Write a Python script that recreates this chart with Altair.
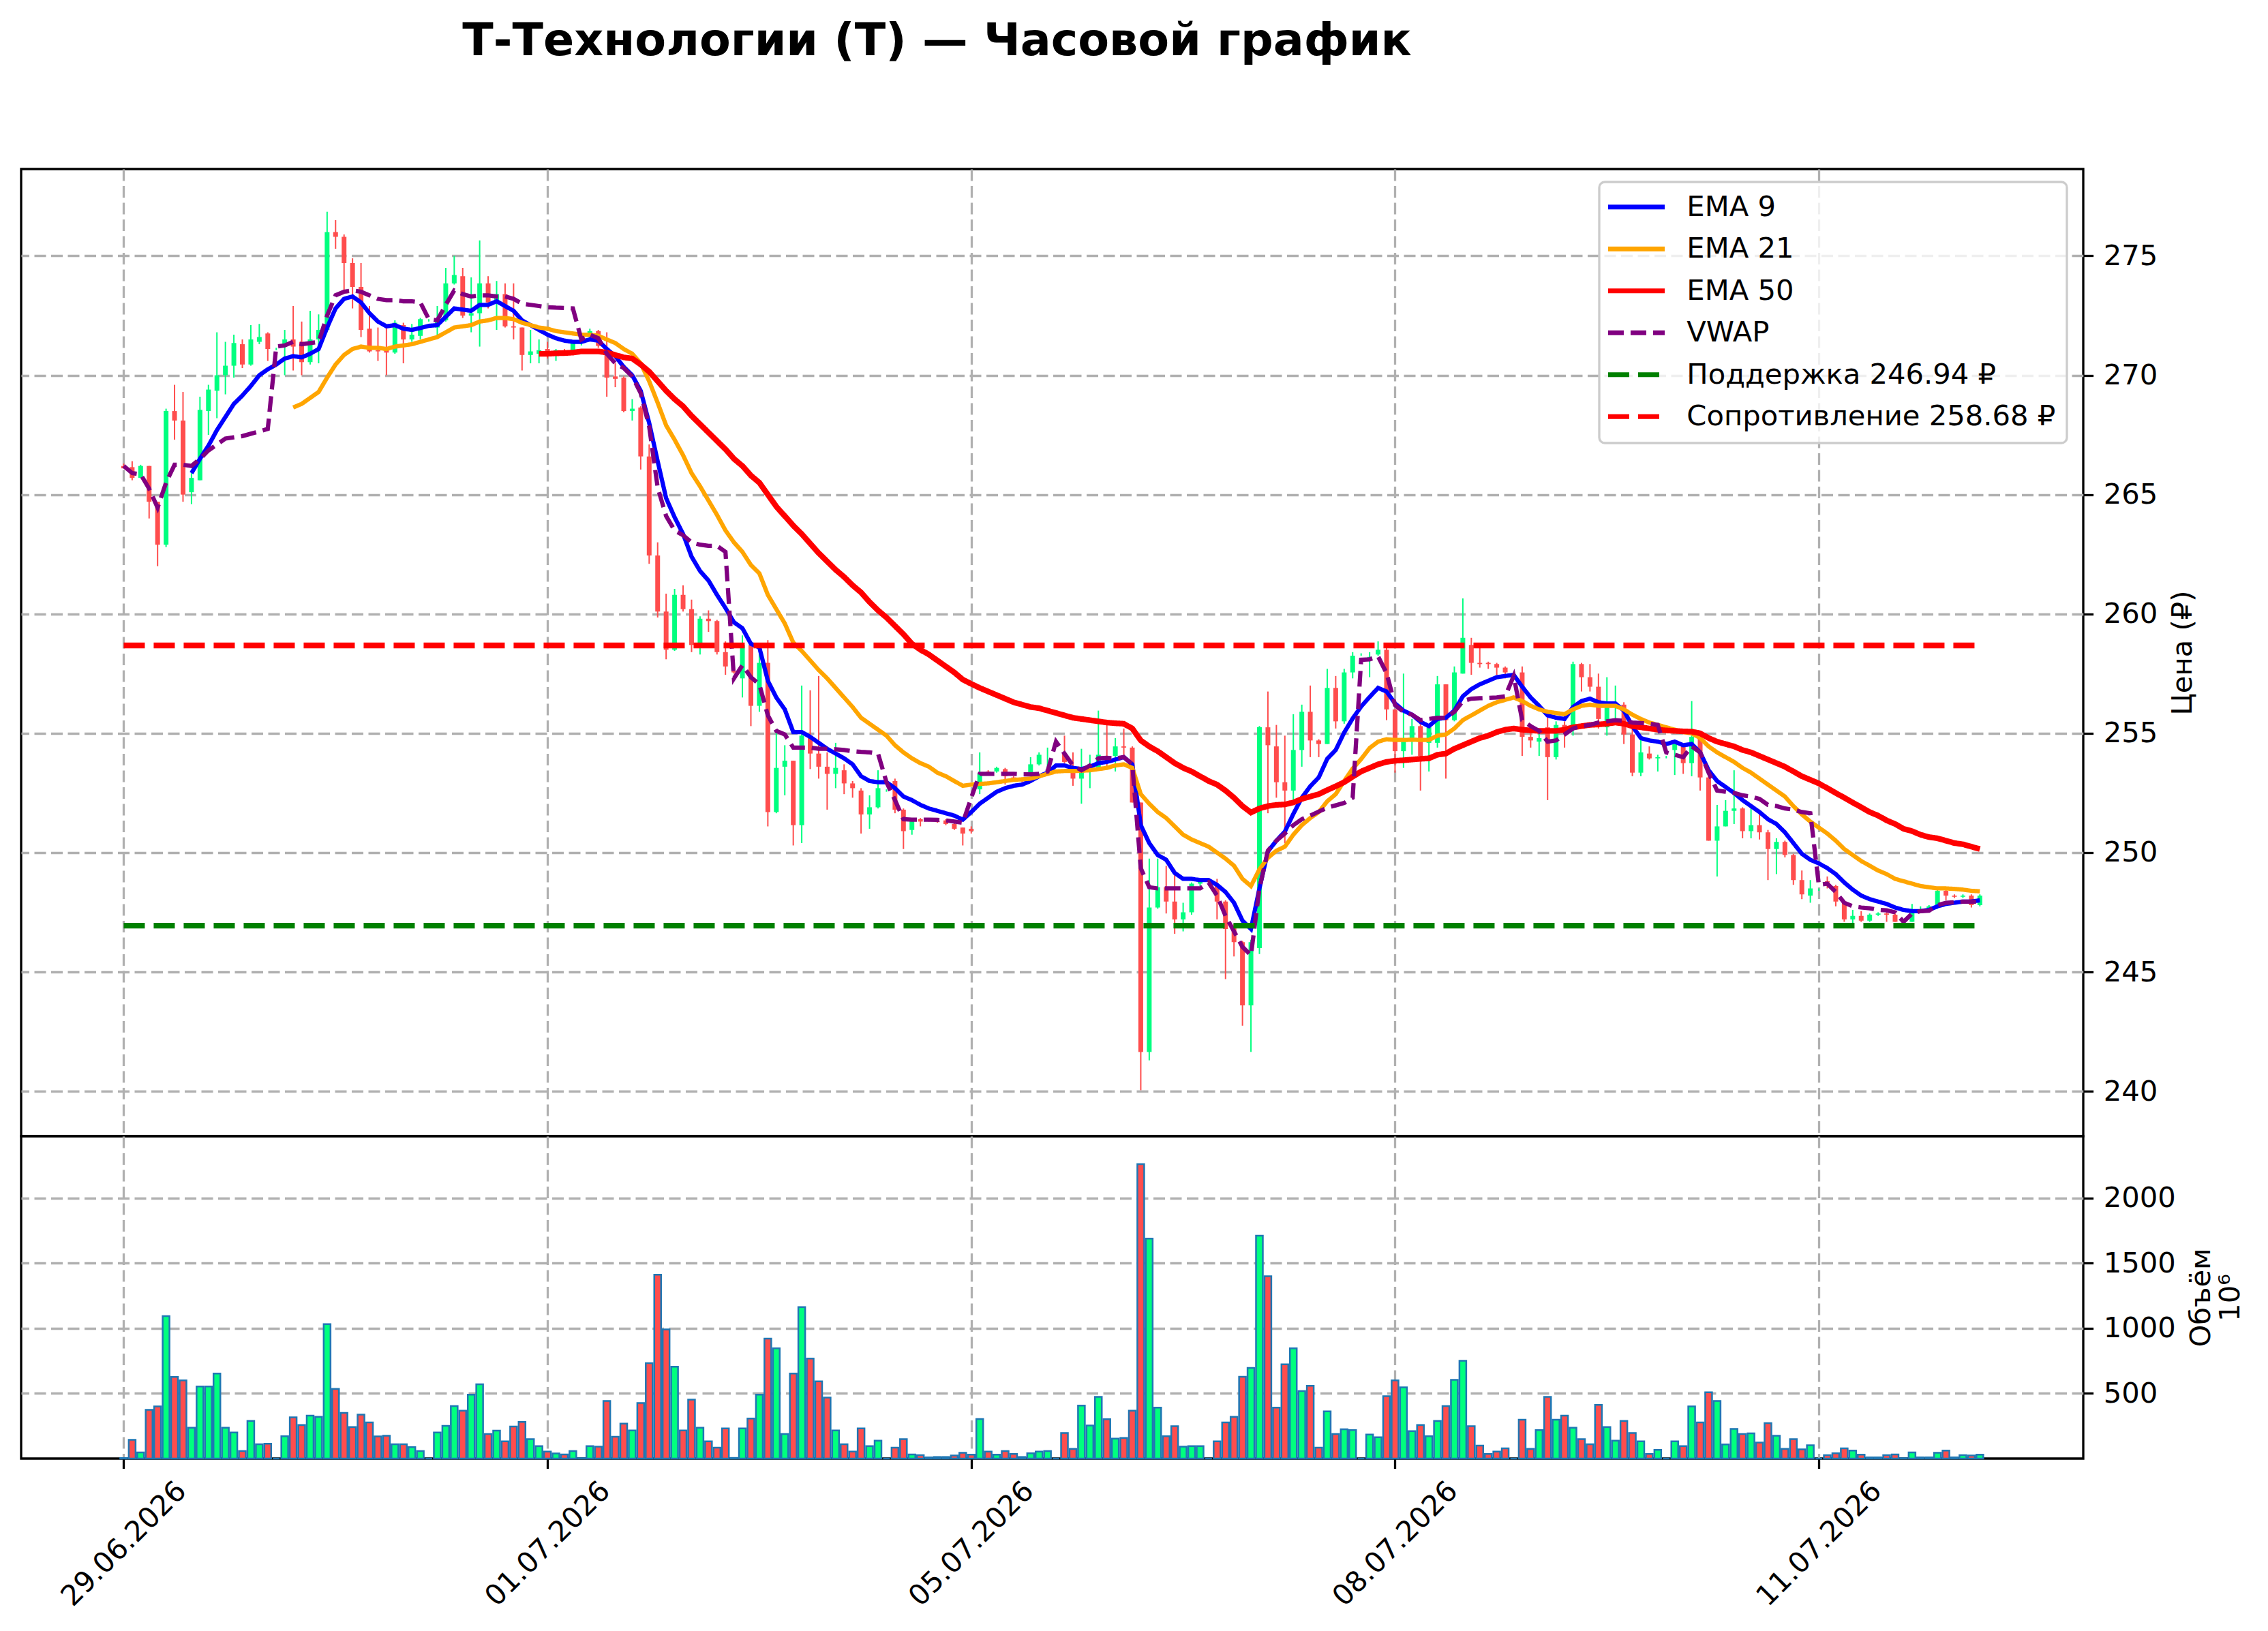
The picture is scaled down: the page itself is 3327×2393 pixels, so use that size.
import altair as alt
import pandas as pd

TITLE = "Т-Технологии (Т) — Часовой график"
PRICE_TITLE = "Цена (₽)"
VOLUME_TITLE = ["Объём", "10⁶"]
TICK_POS = [0, 50, 100, 150, 200]
TICK_LABELS = ["29.06.2026", "01.07.2026", "05.07.2026", "08.07.2026", "11.07.2026"]
PRICE_TICKS = [240, 245, 250, 255, 260, 265, 270, 275]
VOLUME_TICKS = [500, 1000, 1500, 2000]
SUPPORT = 246.94
RESISTANCE = 258.68

OPEN = [
    266.2, 266.15, 265.7, 266.2, 264.7, 262.9, 268.5, 268.1, 265.1, 265.6,
    268.5, 269.35, 270.0, 270.4, 271.3, 270.45, 271.4, 271.75, 271.1, 271.2,
    271.5, 271.4, 270.55, 271.5, 271.9, 276.0, 275.8, 274.7, 273.7, 271.95,
    271.05, 271.1, 270.95, 272.1, 271.5, 271.65, 272.3, 272.0, 272.3, 273.85,
    274.15, 272.5, 272.6, 273.85, 273.05, 273.4, 272.05, 272.0, 270.85, 270.9,
    271.1, 270.95, 271.05, 270.95, 271.3, 271.6, 271.85, 271.15, 269.95, 269.9,
    268.5, 268.65, 266.6, 262.45, 260.1, 258.5, 260.8, 260.2, 258.7, 259.8,
    259.7, 258.4, 257.6, 257.3, 258.7, 256.15, 257.95, 251.7, 253.6, 253.85,
    251.15, 254.9, 254.15, 253.6, 253.3, 253.45, 252.9, 252.6, 251.6, 251.9,
    252.6, 253.0, 251.8, 250.95, 251.4, 251.38, 251.33, 251.35, 251.2, 251.05,
    251.0, 252.65, 253.4, 253.4, 253.5, 253.15, 253.1, 253.35, 253.7, 253.3,
    253.6, 254.15, 253.45, 253.1, 253.45, 253.5, 254.0, 254.05, 254.45, 254.4,
    252.1, 241.65, 247.7, 248.55, 247.95, 247.2, 247.5, 248.7, 248.8, 248.65,
    247.95, 246.95, 246.25, 243.6, 246.0, 255.25, 254.45, 252.95, 252.6, 254.3,
    255.9, 254.7, 254.55, 256.9, 255.5, 257.55, 258.3, 258.05, 258.3, 258.5,
    256.0, 254.25, 254.65, 255.3, 254.6, 254.6, 257.05, 255.55, 257.5, 258.7,
    257.95, 257.95, 257.9, 257.75, 257.5, 257.55, 254.85, 254.65, 255.25, 254.0,
    255.35, 255.25, 257.9, 257.35, 256.95, 255.25, 256.1, 256.2, 254.95, 253.35,
    254.15, 253.95, 254.0, 254.3, 254.45, 253.75, 254.85, 253.15, 250.5, 251.1,
    251.75, 251.85, 250.9, 251.15, 250.85, 250.15, 250.45, 249.9, 248.85, 248.2,
    248.45, 248.8, 248.6, 247.95, 247.2, 247.35, 247.15, 247.4, 247.45, 247.4,
    247.1, 247.1, 247.55, 247.6, 247.7, 248.4, 248.2, 248.15, 248.2, 247.8,
]
HIGH = [
    266.3, 266.4, 266.25, 266.2, 264.7, 268.6, 269.6, 269.3, 265.9, 269.1,
    269.6, 271.8, 271.4, 271.7, 271.5, 272.1, 272.15, 271.8, 271.15, 271.9,
    272.9, 272.25, 272.7, 272.55, 276.85, 276.5, 275.9, 274.9, 274.7, 272.9,
    272.0, 272.1, 272.3, 272.2, 272.15, 272.4, 272.35, 272.9, 274.5, 275.0,
    274.5, 274.1, 275.65, 274.15, 273.95, 273.85, 273.85, 272.0, 271.9, 271.5,
    271.4, 271.1, 271.1, 271.4, 271.35, 271.95, 271.9, 271.8, 270.5, 269.95,
    269.0, 268.7, 267.1, 263.0, 260.85, 261.05, 261.2, 260.6, 259.9, 260.15,
    259.75, 258.85, 257.7, 259.1, 258.8, 258.35, 258.9, 255.1, 254.5, 253.85,
    257.0, 256.8, 257.4, 254.2, 254.6, 253.7, 253.0, 252.7, 252.4, 253.45,
    252.65, 253.1, 251.85, 251.45, 251.45, 251.42, 251.36, 251.4, 251.25, 251.05,
    251.1, 254.2, 253.45, 253.6, 253.55, 253.2, 253.15, 254.0, 254.2, 254.4,
    253.65, 254.9, 254.2, 254.35, 254.1, 255.95, 255.4, 254.8, 255.2, 254.45,
    252.1, 249.75, 249.75, 249.45, 249.3, 247.9, 248.75, 248.85, 248.85, 248.9,
    248.0, 247.0, 246.3, 246.35, 255.3, 256.75, 255.35, 254.9, 255.8, 256.2,
    257.0, 254.75, 257.7, 257.4, 257.7, 258.4, 258.35, 258.4, 258.85, 258.6,
    256.0, 257.5, 255.6, 255.65, 255.3, 257.4, 257.05, 257.8, 260.65, 259.0,
    258.6, 258.0, 257.95, 257.8, 257.55, 257.8, 255.35, 255.15, 255.65, 255.5,
    255.5, 258.0, 257.95, 257.9, 257.5, 257.35, 257.0, 256.3, 255.2, 254.75,
    254.45, 254.1, 254.05, 254.65, 254.5, 256.35, 254.9, 253.2, 252.0, 252.2,
    253.45, 251.9, 252.0, 251.6, 250.95, 250.6, 250.5, 249.95, 249.25, 248.85,
    248.5, 249.0, 248.65, 248.0, 247.6, 247.55, 247.45, 247.5, 247.5, 247.45,
    247.15, 247.85, 247.75, 247.8, 248.45, 248.45, 248.25, 248.25, 248.25, 248.25,
]
LOW = [
    266.1, 265.6, 265.7, 264.0, 262.0, 262.8, 267.3, 264.7, 264.6, 265.6,
    267.5, 268.2, 269.2, 269.9, 270.3, 270.4, 271.3, 270.6, 271.05, 270.0,
    270.2, 270.0, 270.45, 270.5, 271.8, 275.3, 273.45, 272.8, 271.6, 270.95,
    270.6, 270.0, 270.9, 270.5, 271.4, 271.5, 272.25, 271.6, 272.25, 273.8,
    272.4, 271.8, 271.2, 272.8, 271.9, 272.0, 271.5, 270.2, 270.5, 270.5,
    270.7, 270.6, 270.85, 270.9, 271.25, 271.55, 271.15, 269.1, 269.5, 268.45,
    268.1, 266.05, 262.1, 259.85, 258.1, 258.45, 260.1, 258.4, 258.3, 259.25,
    258.3, 257.45, 257.5, 256.5, 255.3, 255.9, 251.1, 251.65, 252.4, 250.3,
    250.4, 253.5, 253.1, 251.8, 252.7, 252.45, 252.3, 250.8, 251.0, 251.85,
    252.55, 251.65, 250.15, 250.75, 251.1, 251.3, 251.25, 251.15, 250.95, 250.3,
    250.8, 252.45, 253.25, 253.35, 252.85, 253.0, 252.95, 253.3, 253.65, 253.25,
    253.55, 253.75, 252.8, 252.05, 252.7, 253.45, 253.5, 253.4, 254.0, 252.1,
    240.05, 241.3, 247.65, 247.45, 246.6, 246.7, 247.4, 248.6, 248.75, 247.2,
    244.7, 245.65, 242.75, 241.65, 245.75, 251.65, 252.3, 250.4, 252.0, 253.6,
    254.0, 254.0, 254.55, 255.2, 255.4, 257.3, 258.25, 257.35, 258.25, 255.55,
    253.35, 253.55, 254.1, 252.6, 253.4, 254.4, 253.1, 255.5, 257.5, 257.45,
    257.75, 257.7, 257.45, 257.3, 257.45, 254.05, 254.4, 254.05, 252.2, 253.9,
    254.4, 254.9, 256.75, 256.75, 255.2, 254.9, 255.5, 254.55, 253.2, 253.2,
    253.9, 253.4, 253.95, 253.25, 253.3, 253.2, 252.6, 250.5, 249.0, 251.1,
    251.2, 250.6, 250.6, 250.55, 248.85, 249.1, 249.8, 248.65, 248.05, 247.9,
    248.4, 248.5, 247.75, 247.1, 247.0, 247.1, 247.1, 247.35, 247.1, 247.1,
    247.05, 247.1, 247.5, 247.55, 247.65, 248.0, 248.1, 248.1, 247.7, 247.75,
]
CLOSE = [
    266.1, 265.7, 266.2, 264.7, 262.9, 268.5, 268.1, 265.0, 265.7, 268.55,
    269.4, 270.0, 270.4, 271.35, 270.45, 271.5, 271.6, 271.1, 271.1, 271.5,
    271.2, 270.55, 271.5, 271.9, 276.0, 275.8, 274.7, 273.7, 271.9, 271.0,
    271.0, 270.95, 272.2, 271.5, 271.7, 272.35, 272.3, 272.35, 273.85, 274.2,
    272.5, 272.6, 273.85, 273.05, 273.4, 272.05, 272.0, 270.85, 271.0, 271.05,
    270.95, 271.05, 270.9, 271.35, 271.3, 271.85, 271.23, 269.9, 269.85, 268.5,
    268.6, 266.6, 262.45, 260.1, 258.5, 260.8, 260.2, 258.7, 259.8, 259.7,
    258.4, 257.8, 257.55, 258.7, 256.15, 257.95, 251.7, 253.55, 253.85, 251.15,
    254.9, 254.15, 253.6, 253.3, 253.55, 252.9, 252.7, 251.6, 251.9, 252.7,
    252.6, 251.8, 250.9, 251.4, 251.3, 251.33, 251.28, 251.2, 251.0, 250.8,
    250.9, 253.3, 253.3, 253.55, 253.2, 253.05, 253.0, 253.7, 254.1, 253.4,
    253.6, 253.8, 253.1, 253.4, 253.7, 254.1, 253.95, 254.45, 254.4, 252.1,
    241.65, 247.7, 248.55, 247.95, 247.2, 247.5, 248.7, 248.8, 248.8, 247.95,
    246.8, 246.25, 243.6, 246.25, 255.25, 254.5, 252.95, 252.6, 254.3, 255.9,
    254.7, 254.55, 256.9, 255.5, 257.55, 258.25, 258.3, 258.2, 258.5, 256.0,
    254.25, 254.65, 255.3, 254.05, 255.25, 257.05, 255.55, 257.55, 259.0, 257.95,
    257.9, 257.9, 257.75, 257.55, 257.5, 254.85, 254.7, 254.8, 254.0, 255.35,
    255.25, 257.9, 257.35, 256.95, 255.6, 256.1, 256.25, 254.95, 253.35, 254.2,
    253.95, 254.0, 254.0, 254.55, 253.75, 254.85, 253.15, 250.5, 251.1, 251.75,
    251.85, 250.9, 251.15, 250.85, 250.15, 250.45, 249.9, 248.85, 248.25, 248.5,
    248.45, 248.75, 247.95, 247.2, 247.35, 247.15, 247.4, 247.45, 247.4, 247.1,
    247.1, 247.55, 247.6, 247.75, 248.4, 248.2, 248.15, 248.2, 247.8, 248.2,
]
VOLUME = [
    4, 144, 47, 374, 400, 1093, 626, 600, 237, 553,
    553, 653, 237, 200, 58, 289, 110, 114, 0, 172,
    316, 258, 330, 321, 1032, 535, 351, 242, 337, 277,
    170, 175, 110, 110, 88, 58, 0, 200, 251, 403,
    368, 491, 570, 188, 214, 132, 246, 281, 149, 96,
    53, 39, 32, 58, 3, 96, 91, 442, 167, 268,
    216, 426, 732, 1412, 991, 705, 216, 453, 237, 132,
    84, 232, 5, 232, 307, 491, 921, 847, 188, 653,
    1163, 768, 593, 468, 216, 110, 53, 232, 96, 137,
    0, 84, 149, 32, 26, 9, 12, 12, 23, 44,
    30, 304, 53, 30, 58, 35, 12, 40, 53, 58,
    0, 196, 74, 407, 254, 474, 302, 153, 158, 368,
    2260, 1689, 391, 172, 249, 91, 96, 96, 0, 132,
    277, 321, 628, 696, 1711, 1400, 391, 723, 847, 518,
    558, 84, 363, 188, 225, 219, 0, 184, 163, 479,
    600, 547, 211, 258, 172, 289, 403, 605, 751, 249,
    100, 35, 53, 79, 0, 298, 74, 219, 474, 298,
    330, 237, 149, 110, 412, 242, 137, 289, 196, 132,
    35, 67, 0, 132, 96, 400, 277, 509, 442, 109,
    228, 189, 193, 123, 272, 175, 75, 149, 70, 102,
    0, 26, 40, 79, 61, 30, 9, 9, 26, 32,
    3, 47, 9, 9, 44, 61, 9, 26, 23, 30,
]
EMA9_START = 8
EMA9 = [
    265.9, 266.5, 267.05, 267.7, 268.25, 268.8, 269.15, 269.55, 270.0, 270.25,
    270.45, 270.7, 270.8, 270.75, 270.9, 271.1, 272.0, 272.8, 273.2, 273.3,
    273.05, 272.6, 272.25, 272.05, 272.1, 271.95, 271.9, 271.98, 272.07, 272.1,
    272.45, 272.8, 272.75, 272.7, 272.95, 272.95, 273.1, 272.9, 272.7, 272.3,
    272.1, 271.9, 271.7, 271.55, 271.45, 271.4, 271.4, 271.5, 271.45, 271.1,
    270.8, 270.35, 270.0, 269.35, 268.0, 266.4, 264.85, 264.05, 263.35, 262.4,
    261.8, 261.4, 260.8, 260.25, 259.65, 259.4, 258.75, 258.6, 257.2, 256.5,
    256.0, 255.05, 255.05, 254.85, 254.6, 254.35, 254.15, 253.95, 253.7, 253.2,
    253.0, 252.95, 252.95, 252.7, 252.35, 252.2, 252.0, 251.85, 251.75, 251.65,
    251.55, 251.38, 251.7, 252.05, 252.3, 252.55, 252.7, 252.8, 252.85, 253.0,
    253.2, 253.35, 253.65, 253.65, 253.55, 253.5, 253.6, 253.75, 253.8, 253.9,
    254.0, 253.7, 251.15, 250.4, 249.9, 249.7, 249.15, 248.9, 248.9, 248.85,
    248.85, 248.65, 248.35, 247.9, 247.15, 246.8, 248.5, 250.05, 250.5, 250.88,
    251.62, 252.3, 252.78, 253.15, 253.93, 254.3, 255.03, 255.62, 256.12, 256.52,
    256.9, 256.75, 256.25, 255.95, 255.78, 255.48, 255.3, 255.6, 255.65, 255.95,
    256.55, 256.85, 257.05, 257.2, 257.35, 257.4, 257.45, 256.95, 256.5, 256.15,
    255.75, 255.65, 255.6, 256.1, 256.35, 256.45, 256.3, 256.25, 256.25, 255.95,
    255.3, 254.8, 254.7, 254.65, 254.55, 254.65, 254.5, 254.55, 254.2, 253.45,
    253.0, 252.75, 252.5, 252.2, 251.95, 251.7, 251.4, 251.2, 250.85, 250.4,
    249.95, 249.7, 249.55, 249.35, 249.1, 248.75, 248.45, 248.2, 248.05, 247.95,
    247.85, 247.7, 247.6, 247.55, 247.55, 247.6, 247.75, 247.85, 247.9, 247.95,
    247.95, 248.0,
]
EMA21_START = 20
EMA21 = [
    268.65, 268.8, 269.05, 269.3, 269.9, 270.45, 270.85, 271.1, 271.2, 271.15,
    271.15, 271.1, 271.2, 271.25, 271.3, 271.4, 271.5, 271.6, 271.8, 272.0,
    272.05, 272.1, 272.25, 272.3, 272.4, 272.4, 272.35, 272.2, 272.1, 272.0,
    271.95, 271.85, 271.8, 271.75, 271.7, 271.7, 271.65, 271.5, 271.35, 271.1,
    270.9, 270.5, 269.75, 268.85, 267.9, 267.3, 266.65, 265.9, 265.35, 264.75,
    264.15, 263.5, 263.0, 262.6, 262.05, 261.7, 260.8, 260.2, 259.6, 258.8,
    258.45, 258.05, 257.65, 257.3, 256.9, 256.5, 256.1, 255.65, 255.4, 255.15,
    254.9, 254.5, 254.2, 253.95, 253.75, 253.6, 253.35, 253.2, 253.0, 252.8,
    252.85, 252.88, 252.9, 252.95, 253.0, 253.05, 253.07, 253.1, 253.2, 253.3,
    253.4, 253.42, 253.42, 253.43, 253.45, 253.5, 253.55, 253.65, 253.7, 253.55,
    252.45, 252.05, 251.7, 251.45, 251.1, 250.75, 250.55, 250.4, 250.25, 250.0,
    249.75, 249.45, 248.9, 248.6, 249.3, 249.78, 250.08, 250.25, 250.75, 251.15,
    251.45, 251.7, 252.15, 252.45, 253.0, 253.52, 253.92, 254.38, 254.65, 254.75,
    254.72, 254.72, 254.73, 254.72, 254.72, 254.9, 254.95, 255.2, 255.55, 255.75,
    255.95, 256.15, 256.3, 256.4, 256.5, 256.35, 256.15, 256.0, 255.9, 255.85,
    255.8, 256.0, 256.15, 256.2, 256.15, 256.15, 256.15, 256.0, 255.78, 255.6,
    255.45, 255.35, 255.25, 255.15, 255.05, 255.0, 254.8, 254.45, 254.2, 254.0,
    253.8, 253.55, 253.35, 253.1, 252.85, 252.6, 252.35, 251.95, 251.6, 251.3,
    251.05, 250.8, 250.5, 250.15, 249.9, 249.65, 249.45, 249.25, 249.1, 248.9,
    248.8, 248.7, 248.6, 248.55, 248.5, 248.5, 248.48, 248.45, 248.4, 248.38,
]
EMA50_START = 49
EMA50 = [
    270.9, 270.9, 270.92, 270.93, 270.95, 271.0, 271.0, 271.0, 270.95, 270.85,
    270.75, 270.7, 270.45, 270.15, 269.75, 269.35, 269.0, 268.7, 268.3, 267.95,
    267.6, 267.25, 266.9, 266.5, 266.2, 265.8, 265.5, 265.0, 264.5, 264.1,
    263.7, 263.35, 262.95, 262.55, 262.2, 261.85, 261.55, 261.2, 260.9, 260.5,
    260.15, 259.85, 259.5, 259.15, 258.75, 258.5, 258.3, 258.05, 257.8, 257.55,
    257.25, 257.07, 256.9, 256.75, 256.6, 256.45, 256.3, 256.2, 256.1, 256.05,
    255.95, 255.85, 255.75, 255.65, 255.6, 255.55, 255.5, 255.45, 255.42, 255.4,
    255.2, 254.7, 254.45, 254.25, 254.0, 253.75, 253.55, 253.4, 253.2, 253.0,
    252.85, 252.6, 252.3, 251.95, 251.68, 251.85, 251.95, 252.0, 252.02, 252.1,
    252.25, 252.35, 252.45, 252.62, 252.78, 252.95, 253.18, 253.4, 253.55, 253.7,
    253.8, 253.85, 253.87, 253.9, 253.93, 253.95, 254.1, 254.15, 254.35, 254.5,
    254.65, 254.8, 254.9, 255.05, 255.15, 255.2, 255.15, 255.12, 255.1, 255.1,
    255.1, 255.15, 255.25, 255.3, 255.35, 255.37, 255.4, 255.45, 255.4, 255.3,
    255.25, 255.2, 255.15, 255.12, 255.1, 255.08, 255.07, 255.0, 254.8, 254.65,
    254.55, 254.45, 254.3, 254.2, 254.05, 253.9, 253.75, 253.6, 253.4, 253.2,
    253.05, 252.9, 252.7, 252.5, 252.3, 252.1, 251.9, 251.7, 251.55, 251.35,
    251.2, 251.0, 250.9, 250.75, 250.65, 250.6, 250.5, 250.4, 250.35, 250.25,
    250.15,
]
VWAP = [
    266.2, 265.9, 265.85, 265.25, 264.45, 265.5, 266.25, 266.25, 266.2, 266.5,
    266.85, 267.1, 267.35, 267.4, 267.45, 267.55, 267.65, 267.75, 271.2, 271.25,
    271.4, 271.3, 271.35, 271.4, 272.5, 273.35, 273.5, 273.55, 273.5, 273.35,
    273.2, 273.15, 273.15, 273.1, 273.1, 273.05, 272.35, 272.3, 272.95, 273.55,
    273.4, 273.3, 273.35, 273.35, 273.3, 273.3, 273.2, 273.0, 272.95, 272.9,
    272.85, 272.83, 272.82, 272.8, 271.5, 271.7, 271.55, 270.9, 270.5, 270.3,
    269.95, 269.25, 267.85, 265.3, 264.1, 263.5, 263.3, 263.0, 262.9, 262.85,
    262.85, 262.6, 257.3, 257.85, 257.35, 257.05, 255.75, 255.1, 254.95, 254.4,
    254.4, 254.4, 254.35, 254.35, 254.33, 254.3, 254.25, 254.22, 254.2, 254.15,
    252.95, 252.2, 251.4, 251.38, 251.38, 251.38, 251.37, 251.35, 251.3, 251.25,
    252.3, 253.3, 253.3, 253.3, 253.3, 253.3, 253.28, 253.28, 253.3, 253.4,
    254.65, 254.15, 253.65, 253.45, 253.65, 253.95, 253.97, 253.95, 254.0, 253.7,
    249.35, 248.55, 248.5, 248.5, 248.5, 248.5, 248.5, 248.5, 248.75, 248.2,
    247.35, 246.7, 246.05, 245.7, 248.5, 250.08, 250.5, 250.8, 251.15, 251.4,
    251.55, 251.72, 251.88, 251.98, 252.08, 252.3, 258.08, 258.1, 258.22, 257.52,
    256.18, 255.9, 255.78, 255.55, 255.6, 255.65, 255.65, 255.9, 256.35, 256.45,
    256.47, 256.48, 256.5, 256.55, 257.4, 255.55, 255.3, 255.1, 254.65, 254.7,
    254.95, 255.2, 255.3, 255.35, 255.45, 255.5, 255.55, 255.52, 255.45, 255.43,
    255.4, 255.35, 254.2, 254.1, 254.0, 254.45, 254.2, 253.35, 252.6, 252.55,
    252.5, 252.4, 252.35, 252.25, 252.0, 251.95, 251.85, 251.8, 251.7, 251.65,
    248.65, 248.7, 248.35, 247.9, 247.75, 247.7, 247.67, 247.6, 247.58, 247.5,
    247.1, 247.45, 247.55, 247.57, 247.8, 247.9, 247.92, 247.95, 247.95, 247.95,
]

# ---------------- data frames ----------------
n = len(CLOSE)
candles = pd.DataFrame({
    "i": list(range(n)), "open": OPEN, "high": HIGH, "low": LOW,
    "close": CLOSE, "volume": VOLUME,
})

SUP_LABEL = f"Поддержка {SUPPORT:.2f} ₽"
RES_LABEL = f"Сопротивление {RESISTANCE:.2f} ₽"
SERIES = ["EMA 9", "EMA 21", "EMA 50", "VWAP", SUP_LABEL, RES_LABEL]

rows = []
def add_series(name, start, values):
    for k, v in enumerate(values):
        rows.append({"i": start + k, "value": v, "series": name})

add_series("EMA 9", EMA9_START, EMA9)
add_series("EMA 21", EMA21_START, EMA21)
add_series("EMA 50", EMA50_START, EMA50)
add_series("VWAP", 0, VWAP)
for lvl, lab in [(SUPPORT, SUP_LABEL), (RESISTANCE, RES_LABEL)]:
    rows.append({"i": 0, "value": lvl, "series": lab})
    rows.append({"i": n - 1, "value": lvl, "series": lab})
lines_df = pd.DataFrame(rows)

# ---------------- styling ----------------
FONT = "DejaVu Sans"
FS = 41.7
UP = "#00ff7f"
DOWN = "#ff4d4d"
GRID_COLOR = "#b0b0b0"
GRID_DASH = [17, 7.5]
SERIES_COLORS = ["#0000ff", "#ffa500", "#ff0000", "#800080", "#008000", "#ff0000"]
SERIES_DASHES = [[1, 0], [1, 0], [1, 0], [23, 10], [31, 13], [31, 13]]
SERIES_WIDTHS = [6.25, 6.25, 8.3, 6.25, 8.3, 8.3]

W = 3025
H_PRICE = 1419
H_VOL = 473

x_scale = alt.Scale(domain=[-12.1, 231.2], nice=False, zero=False, padding=0)
label_expr = " : ".join(
    f"datum.value == {p} ? '{l}'" for p, l in zip(TICK_POS, TICK_LABELS)
) + " : ''"

def x_enc(show_labels):
    if show_labels:
        axis = alt.Axis(
            values=TICK_POS, labels=True, ticks=True,
            labelExpr=label_expr, labelAngle=315, labelAlign="center",
            labelBaseline="middle", labelPadding=110, labelOverlap=False,
            labelFlush=False, labelLimit=1000, grid=True,
        )
    else:
        axis = alt.Axis(
            values=TICK_POS, labels=False, ticks=False, grid=True,
            labelPadding=0, minExtent=0, maxExtent=0,
        )
    return alt.X("i:Q", scale=x_scale, title=None, axis=axis)

price_axis = alt.Axis(
    orient="right", values=PRICE_TICKS, grid=True, title=PRICE_TITLE,
    titleAngle=270, titleX=145, titleY=H_PRICE / 2,
    titleAlign="center", titleBaseline="middle",
)
price_scale = alt.Scale(domain=[238.12, 278.64], nice=False, zero=False, padding=0)

up_down = alt.condition("datum.close >= datum.open", alt.value(UP), alt.value(DOWN))

wicks = alt.Chart(candles).mark_rule(strokeWidth=2).encode(
    x=x_enc(False),
    y=alt.Y("low:Q", scale=price_scale, axis=price_axis),
    y2="high:Q",
    color=up_down,
)
bodies = alt.Chart(candles).mark_bar(size=7).encode(
    x=x_enc(False),
    y=alt.Y("open:Q", scale=price_scale, axis=price_axis),
    y2="close:Q",
    color=up_down,
)

legend = alt.Legend(
    title=None, orient="none", legendX=2315, legendY=19,
    symbolType="M-3,0H3", symbolSize=767, symbolOffset=17.65,
    symbolStrokeWidth=7, labelOffset=53,
    labelFont=FONT, labelFontSize=FS, labelColor="black", labelLimit=0,
    rowPadding=18.5, padding=16,
    fillColor="rgba(255,255,255,0.8)", strokeColor="#cccccc", cornerRadius=8,
)
color_enc = alt.Color("series:N", scale=alt.Scale(domain=SERIES, range=SERIES_COLORS), legend=legend)
dash_enc = alt.StrokeDash("series:N", scale=alt.Scale(domain=SERIES, range=SERIES_DASHES), legend=legend)

line_layers = []
for name, w in zip(SERIES, SERIES_WIDTHS):
    line_layers.append(
        alt.Chart(lines_df).transform_filter(alt.datum.series == name)
        .mark_line(strokeWidth=w)
        .encode(
            x=x_enc(False),
            y=alt.Y("value:Q", scale=price_scale, axis=price_axis),
            color=color_enc,
            strokeDash=dash_enc,
        )
    )

price = alt.layer(wicks, bodies, *line_layers).properties(width=W, height=H_PRICE)

volume = alt.Chart(candles).mark_bar(size=10, stroke="#1f77b4", strokeWidth=2.5).encode(
    x=x_enc(True),
    y=alt.Y(
        "volume:Q", scale=alt.Scale(domain=[0, 2475], nice=False, padding=0),
        axis=alt.Axis(
            orient="right", values=VOLUME_TICKS, format="d", grid=True,
            title=VOLUME_TITLE, titleAngle=270, titleX=172, titleY=H_VOL / 2,
            titleAlign="center", titleBaseline="middle", titleLineHeight=43,
        ),
    ),
    color=up_down,
).properties(width=W, height=H_VOL)

chart = alt.vconcat(price, volume, spacing=0, bounds="flush").properties(
    title=alt.TitleParams(
        TITLE, anchor="start", dx=649, font=FONT, fontSize=66.7,
        fontWeight="bold", color="black", offset=152,
    ),
    padding={"left": 29, "top": 27, "right": 5, "bottom": 5},
    background="white",
).configure_view(
    stroke="black", strokeWidth=3.3,
).configure_axis(
    labelFont=FONT, labelFontSize=FS, labelColor="black", labelPadding=14.6,
    titleFont=FONT, titleFontSize=FS, titleFontWeight="normal", titleColor="black",
    tickColor="black", tickWidth=3.3, tickSize=14.6, domain=False,
    gridColor=GRID_COLOR, gridDash=GRID_DASH, gridWidth=3.3,
).configure_legend(strokeWidth=3.3)

chart.save("out.html", embed_options={"renderer": "svg", "actions": False})
